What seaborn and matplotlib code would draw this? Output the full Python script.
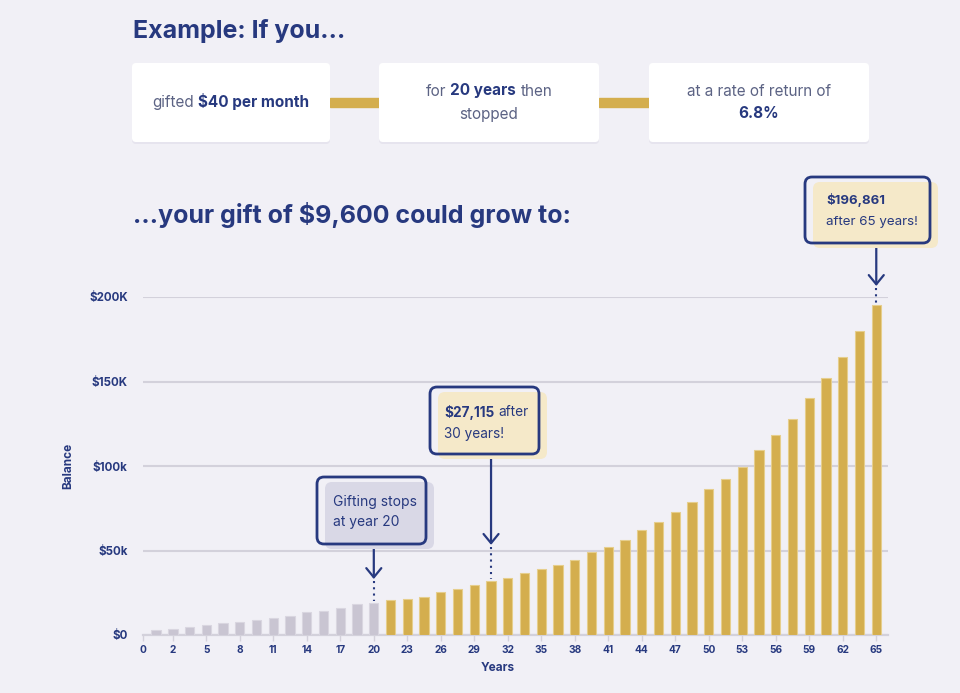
import matplotlib
matplotlib.use('Agg')
import matplotlib.pyplot as plt
import seaborn as sns
import numpy as np
import pandas as pd
from matplotlib.patches import FancyBboxPatch, Rectangle

# ========== data ==========
# balance per bar, in thousands of dollars (44 bars, 0..65 years)
balance_k = [3.0, 3.4, 4.7, 5.9, 6.9, 7.5, 8.7, 10.1, 11.4, 13.4, 14.4, 15.8, 18.2, 19.1,
             20.7, 21.3, 22.7, 25.3, 27.4, 29.6, 31.8, 33.5, 36.7, 38.9, 41.2, 44.6, 49.3, 52.1,
             56.2, 62.0, 67.0, 73.0, 78.9, 86.4, 92.3, 99.4, 109.3, 118.5, 127.8, 140.1, 151.9,
             164.5, 179.9, 195.1]
gifting_bars = 14            # first 14 bars = while gifts are paid in
x_tick_labels = ['0', '2', '5', '8', '11', '14', '17', '20', '23', '26', '29', '32', '35',
                 '38', '41', '44', '47', '50', '53', '56', '59', '62', '65']
y_ticks = [0, 50, 100, 150, 200]
y_tick_labels = ['$0', '$50k', '$100k', '$150K', '$200K']

NAVY = '#27397F'
BODY = '#5C6384'
GOLD = '#D4AE4E'
GOLD_EDGE = '#E6CE8C'
GREY_BAR = '#C9C5D2'
GREY_EDGE = '#D9D6E0'
GRID = '#D3D1DB'
BG = '#F1F0F6'

sns.set_theme(style='white')
plt.rcParams['font.family'] = ['Inter', 'DejaVu Sans']

fig = plt.figure(figsize=(9.6, 6.93), dpi=100, facecolor=BG)
W, H = 960, 693

# chart axes (pixel box 143..888 x 297..635)
ax = fig.add_axes([143 / W, (H - 635) / H, 745 / W, 338 / H])
ax.set_facecolor('none')

df = pd.DataFrame({'idx': np.arange(len(balance_k)), 'balance': balance_k})
df['phase'] = np.where(df['idx'] < gifting_bars, 'gifting', 'growth')
colors = [GREY_BAR if p == 'gifting' else GOLD for p in df['phase']]
edges = [GREY_EDGE if p == 'gifting' else GOLD_EDGE for p in df['phase']]
ax.bar(df['idx'], df['balance'], width=0.56, color=colors, edgecolor=edges,
       linewidth=0.8, zorder=3)

ax.set_xlim(-0.78, 43.7)
ax.set_ylim(0, 200)
ax.set_yticks(y_ticks)
ax.set_yticklabels(y_tick_labels)
ax.yaxis.grid(True, color=GRID, linewidth=1.5, zorder=0)
ax.xaxis.grid(False)
tick_pos = [-0.78] + list(range(1, len(balance_k), 2))
ax.set_xticks(tick_pos)
ax.set_xticklabels(x_tick_labels)
for s in ['top', 'right', 'left']:
    ax.spines[s].set_visible(False)
ax.spines['bottom'].set_color(GRID)
ax.spines['bottom'].set_linewidth(1.6)
ax.tick_params(axis='y', length=0, pad=11, labelsize=8.3, labelcolor=NAVY)
ax.tick_params(axis='x', length=4, width=1, color=GRID, pad=3, labelsize=7.3, labelcolor=NAVY,
               direction='out', bottom=True)
for lab in ax.get_xticklabels() + ax.get_yticklabels():
    lab.set_fontweight('bold')
ax.text(-0.1007, 0.5, 'Balance', transform=ax.transAxes, rotation=90, ha='center',
        va='center', fontsize=8.5, fontweight='bold', color=NAVY)
ax.text(0.4765, -0.0976, 'Years', transform=ax.transAxes, ha='center', va='center',
        fontsize=8.5, fontweight='bold', color=NAVY)

# arrows + dotted leaders (data coords)
arrow_specs = [(13, 53.8, 33.1), (20, 107.1, 53.3), (43, 231.9, 206.5)]
for xi, y_from, y_tip in arrow_specs:
    ax.annotate('', xy=(xi, y_tip), xytext=(xi, y_from),
                arrowprops=dict(arrowstyle='->,head_length=0.55,head_width=0.45',
                                color=NAVY, lw=1.6, shrinkA=0, shrinkB=0,
                                mutation_scale=12),
                annotation_clip=False, zorder=6)
    ax.plot([xi, xi], [y_tip - 1, balance_k[xi] + 1.2], color=NAVY, lw=1.5,
            linestyle=(0, (1, 2)), clip_on=False, zorder=6)

# ========== overlay in pixel coordinates ==========
ov = fig.add_axes([0, 0, 1, 1], zorder=5)
ov.set_xlim(0, W)
ov.set_ylim(H, 0)
ov.axis('off')
ov.patch.set_alpha(0)
renderer = fig.canvas.get_renderer()


def rich_line(x, y, parts, size, ha='center', body=BODY):
    """parts: list of (text, bold); joined by spaces"""
    objs, widths = [], []
    for s, b in parts:
        t = ov.text(0, y, s, fontsize=size, fontweight='bold' if b else 'normal',
                    color=NAVY if b else body, va='center', ha='left')
        objs.append(t)
        widths.append(t.get_window_extent(renderer).width)
    a = ov.text(0, 0, 'x x', fontsize=size)
    bb = ov.text(0, 0, 'xx', fontsize=size)
    gap = a.get_window_extent(renderer).width - bb.get_window_extent(renderer).width
    a.remove()
    bb.remove()
    total = sum(widths) + gap * (len(parts) - 1)
    cur = x - total / 2 if ha == 'center' else x
    for t, w in zip(objs, widths):
        t.set_x(cur)
        cur += w + gap


ov.text(133, 31, 'Example: If you...', fontsize=18, fontweight='bold', color=NAVY,
        va='center', ha='left')
ov.text(133, 215, '...your gift of $9,600 could grow to:', fontsize=18,
        fontweight='bold', color=NAVY, va='center', ha='left')

# connectors
ov.add_patch(Rectangle((330, 98), 50, 9, color=GOLD, zorder=1))
ov.add_patch(Rectangle((599, 98), 50, 9, color=GOLD, zorder=1))
cards = [(132, 330), (379, 599), (649, 869)]
for x0, x1 in cards:
    ov.add_patch(FancyBboxPatch((x0, 65), x1 - x0, 79, boxstyle='round,pad=0,rounding_size=4',
                                facecolor='#E6E4EE', edgecolor='none', zorder=1.5))
    ov.add_patch(FancyBboxPatch((x0, 63), x1 - x0, 79, boxstyle='round,pad=0,rounding_size=4',
                                facecolor='white', edgecolor='none', zorder=2))

rich_line(231, 102, [('gifted', False), ('$40 per month', True)], 11)
rich_line(489, 91, [('for', False), ('20 years', True), ('then', False)], 11)
rich_line(489, 114, [('stopped', False)], 11)
rich_line(759, 91, [('at a rate of return of', False)], 11)
rich_line(759, 114, [('6.8%', True)], 11)

# callout boxes: (outline x0, y0, x1, y1, fill colour)
callouts = [(317, 477, 426, 544, '#D9D8E6'),
            (430, 387, 539, 454, '#F5E9C9'),
            (805, 177, 930, 243, '#F5E9C9')]
for x0, y0, x1, y1, fc in callouts:
    ov.add_patch(FancyBboxPatch((x0 + 8, y0 + 5), x1 - x0, y1 - y0,
                                boxstyle='round,pad=0,rounding_size=7',
                                facecolor=fc, edgecolor='none', zorder=3))
    ov.add_patch(FancyBboxPatch((x0, y0), x1 - x0, y1 - y0,
                                boxstyle='round,pad=0,rounding_size=7',
                                facecolor='none', edgecolor=NAVY, lw=2, zorder=4))

for line, yy in [('Gifting stops', 502), ('at year 20', 522)]:
    ov.text(333, yy, line, fontsize=10, color=NAVY, va='center', ha='left', zorder=5)
rich_line(444, 412, [('$27,115', True), ('after', False)], 9.8, ha='left', body=NAVY)
ov.text(444, 434, '30 years!', fontsize=9.8, color=NAVY, va='center', ha='left', zorder=5)
ov.text(826, 200, '$196,861', fontsize=9.5, fontweight='bold', color=NAVY, va='center',
        ha='left', zorder=5)
ov.text(826, 222, 'after 65 years!', fontsize=9.6, color=NAVY, va='center', ha='left',
        zorder=5)

fig.savefig('out.png', dpi=100, facecolor=BG)
